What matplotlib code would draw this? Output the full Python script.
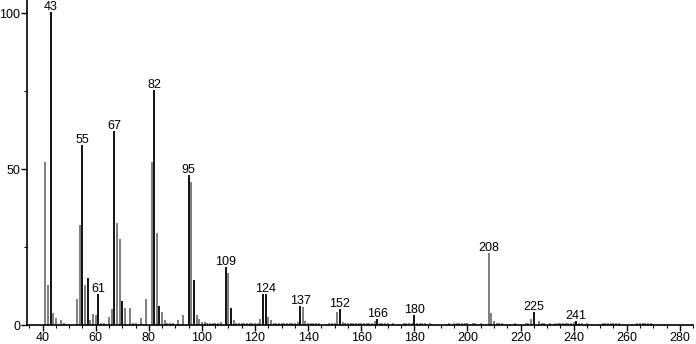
import numpy as np
import matplotlib.pyplot as plt
from matplotlib.ticker import MultipleLocator

plt.rcParams['font.family'] = ['Liberation Sans', 'DejaVu Sans']

# main peaks (m/z, relative intensity)
mz = [41, 42, 43, 44, 45, 47, 48, 53, 54, 55, 56, 57, 58, 59, 60, 61, 62, 63,
      65, 66, 67, 68, 69, 70, 71, 73, 74, 75, 77, 79, 81, 82, 83, 84, 85, 86,
      87, 88, 89, 91, 93, 95, 96, 97, 98, 99, 100, 101, 102, 103, 104, 105,
      106, 107, 109, 110, 111, 112, 122, 123, 124, 125, 126, 136, 137, 138,
      139, 140, 149, 151, 152, 153, 165, 166, 180, 208, 209, 210, 211, 224,
      225, 227, 241]
inten = [52.2, 12.8, 100.5, 3.7, 2.1, 1.6, 0.7, 8.2, 32.0, 57.8, 12.8, 15.2,
         1.6, 3.4, 3.2, 9.8, 0.7, 0.5, 2.7, 5.0, 62.2, 32.8, 27.5, 7.7, 5.6,
         5.6, 0.5, 0.5, 2.1, 8.3, 52.2, 75.4, 29.6, 6.0, 4.2, 1.5, 0.7, 0.5,
         0.5, 1.5, 3.1, 48.1, 46.0, 14.4, 3.1, 1.8, 1.0, 1.0, 0.6, 0.6, 0.7,
         0.6, 0.8, 1.0, 18.6, 16.6, 5.3, 1.5, 1.8, 9.8, 9.8, 2.7, 1.6, 1.1,
         6.1, 5.7, 1.4, 0.8, 0.8, 4.1, 5.2, 1.1, 1.4, 1.8, 3.2, 23.0, 3.8,
         1.4, 0.7, 1.8, 4.1, 1.2, 1.3]

# small background peaks
noise_mz = [113, 114, 115, 116, 117, 118, 119, 120, 121, 127, 128, 129, 130,
            131, 132, 133, 134, 135, 141, 142, 143, 144, 148, 150, 154, 155,
            156, 157, 158, 159, 160, 161, 162, 163, 164, 167, 168, 169, 170,
            172, 176, 177, 178, 179, 181, 182, 183, 184, 186, 193, 195, 196,
            197, 198, 199, 200, 202, 203, 205, 206, 212, 213, 216, 218, 222,
            223, 228, 229, 231, 233, 234, 235, 236, 237, 238, 239, 240, 242,
            243, 245, 249, 251, 252, 253, 254, 255, 256, 257, 264, 265, 266,
            267, 268, 269, 270, 274]
noise_int = [0.7, 0.5, 0.6, 0.5, 0.7, 0.5, 0.6, 0.5, 0.8, 0.6, 0.5, 0.5, 0.6,
             0.5, 0.6, 0.5, 0.7, 0.6, 0.7, 0.5, 0.6, 0.5, 0.6, 0.7, 0.6, 0.5,
             0.6, 0.5, 0.7, 0.5, 0.6, 0.5, 0.6, 0.8, 0.7, 0.7, 0.6, 0.8, 0.5,
             0.6, 0.6, 0.5, 0.7, 0.6, 0.7, 0.5, 0.8, 0.6, 0.5, 0.6, 0.5, 0.7,
             0.6, 0.7, 0.5, 0.8, 0.5, 0.6, 0.5, 0.4, 0.6, 0.5, 0.4, 0.5, 0.5,
             0.7, 0.8, 0.6, 0.5, 0.6, 0.7, 0.5, 0.6, 0.7, 0.8, 0.6, 1.0, 0.7,
             0.5, 0.5, 0.4, 0.6, 0.5, 0.7, 0.6, 0.5, 0.6, 0.5, 0.5, 0.6, 0.7,
             0.6, 0.8, 0.5, 0.4, 0.4]

# darker (centroid) lines
dark = [43, 55, 57, 61, 67, 70, 82, 84, 95, 97, 109, 111, 123, 124, 137,
        152, 166, 180, 225, 241]
labels = [43, 55, 61, 67, 82, 95, 109, 124, 137, 152, 166, 180, 208, 225, 241]

fig = plt.figure(figsize=(6.96, 3.44), dpi=100)
ax = fig.add_axes([0.0388, 0.0552, 0.957, 0.9448])

ax.vlines(noise_mz, 0, noise_int, color='#7d7d7d', lw=1.3)
cols = ['#111111' if m in dark else '#7d7d7d' for m in mz]
ax.vlines(mz, 0, inten, colors=cols, lw=1.4)

for m in labels:
    h = inten[mz.index(m)]
    ax.annotate(str(m), (m, h), xytext=(0, 1.5), textcoords='offset points',
                ha='center', va='baseline', fontsize=9)

ax.set_xlim(34.1, 285)
ax.set_ylim(0, 104.3)
ax.xaxis.set_major_locator(MultipleLocator(20))
ax.xaxis.set_minor_locator(MultipleLocator(5))
ax.yaxis.set_major_locator(MultipleLocator(50))
ax.yaxis.set_minor_locator(MultipleLocator(25))
ax.spines['top'].set_visible(False)
ax.spines['right'].set_visible(False)
for s in ['left', 'bottom']:
    ax.spines[s].set_linewidth(1.2)
ax.tick_params(axis='both', which='major', labelsize=9, length=4, width=1, pad=1)
ax.tick_params(axis='both', which='minor', length=2, width=0.8)

fig.savefig('out.png', dpi=100)
